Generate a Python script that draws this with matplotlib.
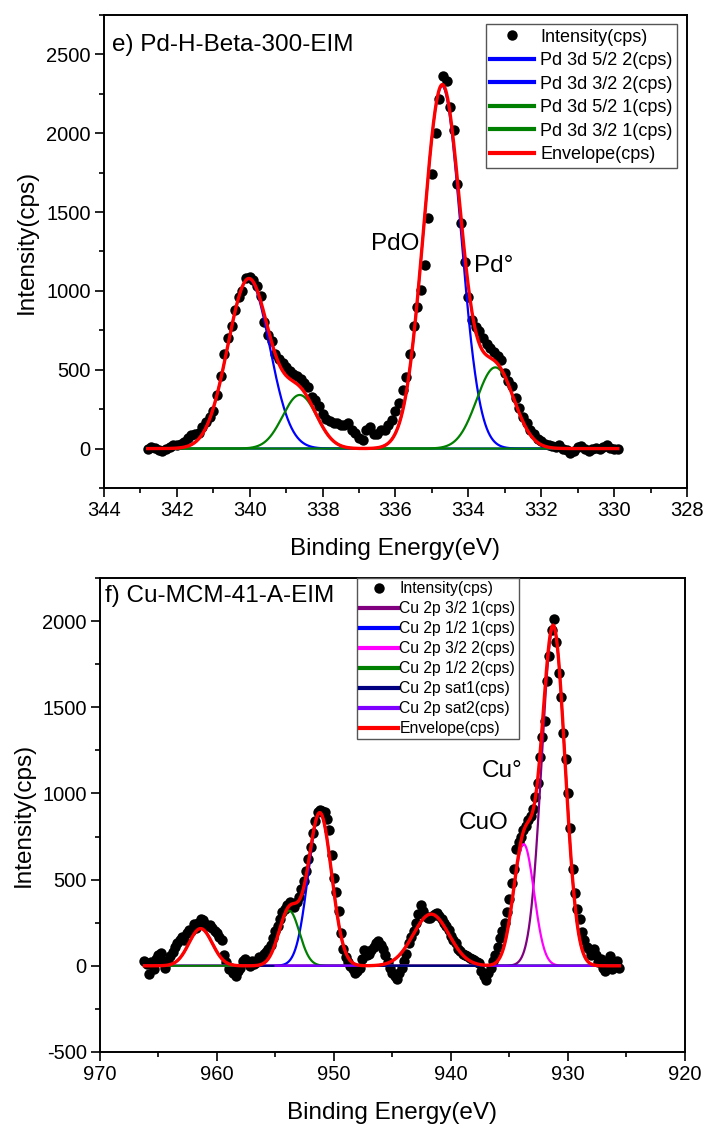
import numpy as np
import matplotlib
matplotlib.use('Agg')
import matplotlib.pyplot as plt
from matplotlib.ticker import MultipleLocator

plt.rcParams['font.family'] = ['Liberation Sans', 'DejaVu Sans']
plt.rcParams['axes.unicode_minus'] = False

# ---------------- Panel e) Pd 3d ----------------
pd_title = "e) Pd-H-Beta-300-EIM"
pd_energy_start = 342.8
pd_energy_step = 0.1
pd_intensity = [
    0, 10, 5, -10, -15, -5, 10, 25, 20, 30,
    40, 70, 85, 90, 100, 140, 170, 200, 240, 340,
    460, 600, 700, 780, 880, 960, 1000, 1080, 1090, 1070,
    1030, 970, 800, 720, 680, 600, 570, 545, 520, 490,
    475, 460, 440, 415, 390, 330, 310, 270, 220, 185,
    175, 165, 160, 150, 150, 160, 120, 100, 70, 55,
    120, 140, 95, 90, 115, 120, 150, 180, 240, 290,
    370, 455, 600, 780, 900, 1005, 1165, 1460, 1740, 2000,
    2220, 2365, 2330, 2165, 2020, 1680, 1430, 1185, 960, 815,
    770, 745, 700, 665, 640, 610, 590, 560, 480, 430,
    400, 320, 260, 200, 165, 120, 90, 60, 45, 30,
    20, 15, 10, 20, 0, -10, -25, -15, 10, 15,
    -5, -15, 0, 5, -5, 10, 20, 5, 0, -5,
]
pd_peak_labels = ["Pd 3d 5/2 2(cps)", "Pd 3d 3/2 2(cps)",
                  "Pd 3d 5/2 1(cps)", "Pd 3d 3/2 1(cps)"]
pd_peak_centers = [334.72, 340.03, 333.26, 338.63]
pd_peak_heights = [2300, 1075, 515, 340]
pd_peak_fwhm = [1.20, 1.35, 1.20, 1.10]
pd_peak_colors = ["#0000FF", "#0000FF", "#008000", "#008000"]
pd_annotations = [("PdO", 336.67, 1300), ("Pd\u00b0", 333.85, 1155)]

# ---------------- Panel f) Cu 2p ----------------
cu_title = "f) Cu-MCM-41-A-EIM"
cu_energy_start = 966.2
cu_energy_step = 0.2
cu_intensity = [
    30, 10, -45, 20, -20, 40, 60, 75, 30, -10,
    20, 55, 80, 110, 135, 150, 165, 150, 190, 210,
    200, 240, 220, 250, 270, 265, 245, 230, 235, 220,
    200, 190, 170, 150, 60, 20, -20, -10, -40, -60,
    -30, -10, 30, 40, 20, 0, 30, 10, 25, 50,
    45, 70, 80, 100, 120, 160, 200, 230, 270, 310,
    330, 350, 370, 360, 340, 370, 400, 445, 490, 550,
    620, 690, 770, 840, 890, 905, 900, 890, 850, 790,
    640, 510, 430, 320, 190, 100, 50, 20, 0, -20,
    -40, -30, -15, 40, 90, 60, 70, 90, 110, 130,
    145, 120, 95, 60, 20, -10, -40, -60, -75, -40,
    -15, 30, 70, 130, 170, 200, 250, 300, 355, 320,
    290, 275, 280, 290, 300, 305, 290, 270, 250, 230,
    205, 175, 150, 130, 100, 85, 70, 60, 55, 45,
    40, 35, 25, 15, -30, -60, -80, -40, -10, 30,
    60, 110, 160, 200, 250, 310, 390, 480, 560, 680,
    720, 750, 790, 810, 845, 870, 910, 980, 1060, 1210,
    1330, 1420, 1650, 1800, 1950, 2010, 1880, 1700, 1560, 1350,
    1200, 1000, 800, 560, 420, 330, 270, 195, 150, 110,
    100, 60, 95, 60, 20, 40, -10, -30, 20, 55,
    -20, 20, 30, -10,
]
cu_peak_labels = ["Cu 2p 3/2 1(cps)", "Cu 2p 1/2 1(cps)", "Cu 2p 3/2 2(cps)",
                  "Cu 2p 1/2 2(cps)", "Cu 2p sat1(cps)", "Cu 2p sat2(cps)"]
cu_peak_centers = [931.25, 951.20, 933.78, 953.83, 961.40, 941.70]
cu_peak_heights = [1965, 885, 706, 320, 216, 300]
cu_peak_fwhm = [2.35, 2.35, 2.07, 2.07, 2.35, 3.60]
cu_peak_colors = ["#800080", "#0000FF", "#FF00FF", "#008000", "#000080", "#8000FF"]
cu_peak_start = [966.2, 966.2, 966.2, 966.2, 966.2, 955.0]
cu_annotations = [("Cu\u00b0", 937.35, 1131), ("CuO", 939.3, 829)]


def gauss(x, c, h, fwhm):
    s = fwhm / 2.3548
    return h * np.exp(-(x - c) ** 2 / (2 * s * s))


fig = plt.figure(figsize=(7.07, 11.27), dpi=100)

FS_LAB = 17.5
FS_TICK = 14.5


def style_axes(ax, xlim, ylim, xmaj, xmin, ymaj, ymin):
    ax.set_xlim(*xlim)
    ax.set_ylim(*ylim)
    ax.xaxis.set_major_locator(MultipleLocator(xmaj))
    ax.xaxis.set_minor_locator(MultipleLocator(xmin))
    ax.yaxis.set_major_locator(MultipleLocator(ymaj))
    ax.yaxis.set_minor_locator(MultipleLocator(ymin))
    ax.tick_params(which='major', direction='out', length=6.5, width=1.2,
                   labelsize=FS_TICK, pad=3, top=False, right=False)
    ax.tick_params(which='minor', direction='out', length=3.6, width=1.2,
                   top=False, right=False)
    for sp in ax.spines.values():
        sp.set_linewidth(1.4)
    ax.set_xlabel("Binding Energy(eV)", fontsize=FS_LAB, va='center')
    ax.set_ylabel("Intensity(cps)", fontsize=FS_LAB, va='center')


# ---------- top panel ----------
ax1 = fig.add_axes([0.1471, 0.5670, 0.8246, 0.4197])
pd_x = pd_energy_start - pd_energy_step * np.arange(len(pd_intensity))
xf = np.linspace(pd_x[0], pd_x[-1], 1200)
handles = []
h0, = ax1.plot(pd_x, pd_intensity, 'o', color='black', ms=7.5, mew=0,
               zorder=1, label="Intensity(cps)")
handles.append(h0)
env = np.zeros_like(xf)
for lab, c, h, w, col in zip(pd_peak_labels, pd_peak_centers, pd_peak_heights,
                             pd_peak_fwhm, pd_peak_colors):
    y = gauss(xf, c, h, w)
    env += y
    hl, = ax1.plot(xf, y, color=col, lw=1.6, zorder=2, label=lab)
    handles.append(hl)
he, = ax1.plot(xf, env, color='#FF0000', lw=2.4, zorder=3, label="Envelope(cps)")
handles.append(he)
style_axes(ax1, (344, 328), (-250, 2750), 2, 1, 500, 250)
ax1.xaxis.set_label_coords(0.5, -0.129)
ax1.yaxis.set_label_coords(-0.132, 0.52)
ax1.text(0.0137, 0.9366, pd_title, transform=ax1.transAxes, fontsize=FS_LAB,
         ha='left', va='center')
for t, xx, yy in pd_annotations:
    ax1.text(xx, yy, t, fontsize=FS_LAB, ha='left', va='center')
leg1 = ax1.legend(handles=handles, loc='upper right',
                  bbox_to_anchor=(677 / 707, 1 - 24 / 1127),
                  bbox_transform=fig.transFigure, borderaxespad=0,
                  fontsize=13, frameon=True, fancybox=False, framealpha=1,
                  edgecolor='#555555', borderpad=0.25, labelspacing=0.36,
                  handlelength=2.4, handletextpad=0.35)
leg1.get_frame().set_linewidth(1.0)
for l in leg1.get_lines()[1:]:
    l.set_linewidth(3)

# ---------- bottom panel ----------
ax2 = fig.add_axes([0.1414, 0.06655, 0.8274, 0.4206])
cu_x = cu_energy_start - cu_energy_step * np.arange(len(cu_intensity))
handles2 = []
g0, = ax2.plot(cu_x, cu_intensity, 'o', color='black', ms=7.5, mew=0,
               zorder=1, label="Intensity(cps)")
handles2.append(g0)
xf2 = np.linspace(cu_x[0], cu_x[-1], 2000)
env2 = np.zeros_like(xf2)
for lab, c, h, w, col, st in zip(cu_peak_labels, cu_peak_centers, cu_peak_heights,
                                 cu_peak_fwhm, cu_peak_colors, cu_peak_start):
    env2 += gauss(xf2, c, h, w)
    xs = xf2[xf2 <= st]
    hl, = ax2.plot(xs, gauss(xs, c, h, w), color=col, lw=1.6, zorder=2, label=lab)
    handles2.append(hl)
ge, = ax2.plot(xf2, env2, color='#FF0000', lw=2.4, zorder=3, label="Envelope(cps)")
handles2.append(ge)
style_axes(ax2, (970, 920), (-500, 2250), 10, 5, 500, 250)
ax2.xaxis.set_label_coords(0.5, -0.1287)
ax2.yaxis.set_label_coords(-0.130, 0.5)
ax2.text(0.0085, 0.962, cu_title, transform=ax2.transAxes, fontsize=FS_LAB,
         ha='left', va='center')
for t, xx, yy in cu_annotations:
    ax2.text(xx, yy, t, fontsize=FS_LAB, ha='left', va='center')
leg2 = ax2.legend(handles=handles2, loc='upper left',
                  bbox_to_anchor=(357 / 707, 1 - 578 / 1127),
                  bbox_transform=fig.transFigure, borderaxespad=0,
                  fontsize=11.3, frameon=True, fancybox=False, framealpha=1,
                  edgecolor='#555555', borderpad=0.2, labelspacing=0.32,
                  handlelength=2.4, handletextpad=0.1)
leg2.get_frame().set_linewidth(1.0)
for l in leg2.get_lines()[1:]:
    l.set_linewidth(3)

fig.savefig("out.png", dpi=100)
